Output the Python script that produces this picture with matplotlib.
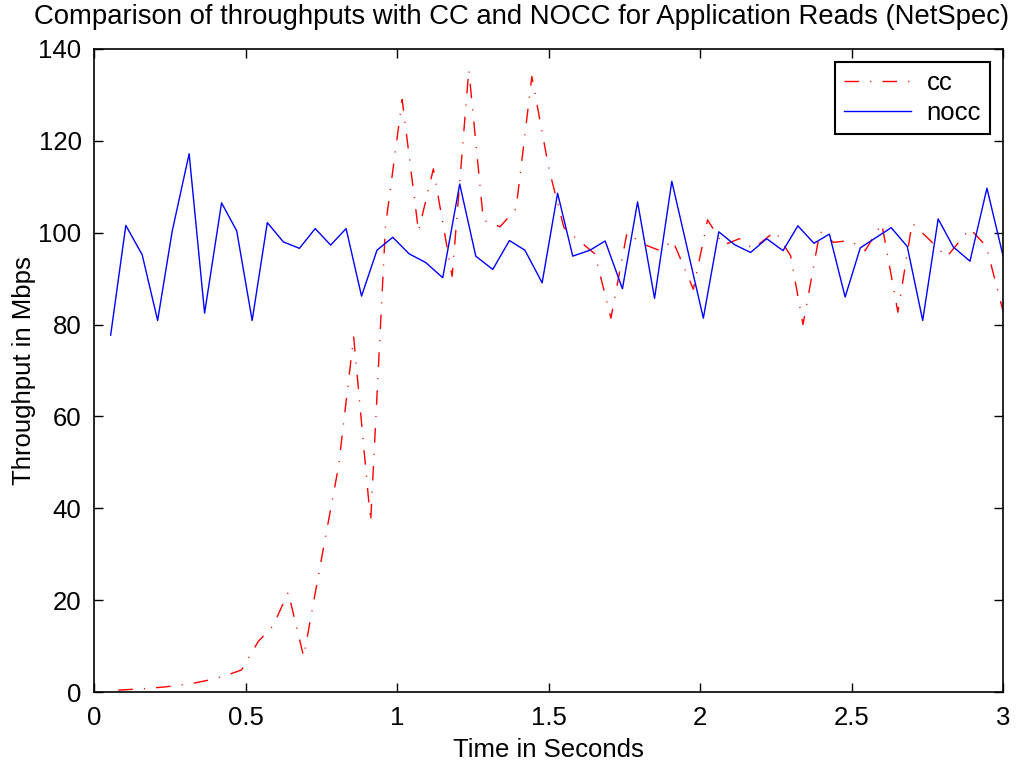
import matplotlib
matplotlib.use("Agg")
import matplotlib.pyplot as plt

plt.rcParams['font.family'] = ['Liberation Sans', 'DejaVu Sans']

cc_time = [0.080, 0.131, 0.182, 0.233, 0.284, 0.335, 0.386, 0.436, 0.487, 0.542,
           0.591, 0.641, 0.692, 0.746, 0.807, 0.857, 0.913, 0.962, 1.017, 1.071,
           1.120, 1.182, 1.237, 1.285, 1.340, 1.393, 1.445, 1.502, 1.551, 1.600,
           1.653, 1.706, 1.759, 1.813, 1.868, 1.910, 1.978, 2.025, 2.077, 2.130,
           2.175, 2.248, 2.299, 2.340, 2.396, 2.440, 2.495, 2.545, 2.600, 2.653,
           2.700, 2.757, 2.814, 2.855, 2.891, 2.945, 3.000]
cc_mbps = [0.4, 0.6, 0.8, 1.1, 1.5, 2.0, 2.7, 3.6, 4.8, 11.0,
           14.4, 21.7, 7.7, 27.3, 49.1, 77.3, 37.0, 101.4, 129.0, 100.3,
           113.9, 90.5, 135.5, 102.7, 101.3, 105.2, 134.0, 113.7, 101.1, 98.3,
           95.4, 81.4, 100.0, 97.5, 96.1, 98.3, 87.7, 102.8, 97.3, 98.7,
           96.5, 100.3, 95.0, 80.0, 100.3, 97.9, 98.3, 96.1, 102.0, 82.7,
           102.1, 98.5, 94.7, 98.0, 100.9, 97.0, 83.0]

nocc_time = [0.055, 0.105, 0.159, 0.210, 0.258, 0.314, 0.365, 0.421, 0.471, 0.522,
             0.572, 0.625, 0.678, 0.730, 0.781, 0.832, 0.883, 0.934, 0.986, 1.040,
             1.095, 1.151, 1.207, 1.260, 1.316, 1.371, 1.422, 1.479, 1.530, 1.580,
             1.637, 1.687, 1.744, 1.794, 1.850, 1.907, 1.959, 2.011, 2.062, 2.114,
             2.167, 2.220, 2.274, 2.323, 2.376, 2.427, 2.479, 2.529, 2.580, 2.631,
             2.684, 2.735, 2.786, 2.836, 2.891, 2.947, 3.000]
nocc_mbps = [77.7, 101.6, 95.2, 80.9, 100.3, 117.2, 82.5, 106.5, 100.4, 80.9,
             102.2, 98.0, 96.6, 100.9, 97.3, 100.9, 86.2, 96.2, 99.0, 95.4,
             93.5, 90.2, 110.6, 94.9, 92.0, 98.3, 96.2, 89.1, 108.6, 94.9,
             96.2, 98.2, 87.8, 106.7, 85.7, 111.2, 96.3, 81.4, 100.2, 97.4,
             95.7, 98.7, 96.1, 101.5, 97.7, 99.7, 86.0, 96.7, 98.9, 101.1,
             97.0, 80.9, 103.0, 96.9, 93.8, 109.7, 95.0]

x_ticks = [0, 0.5, 1, 1.5, 2, 2.5, 3]
x_tick_labels = ['0', '0.5', '1', '1.5', '2', '2.5', '3']
y_ticks = [0, 20, 40, 60, 80, 100, 120, 140]

fig = plt.figure(figsize=(10.21, 7.61), dpi=100)
ax = fig.add_axes([94/1021, 1-692/761, (1003-94)/1021, (692-49)/761])

ax.plot(cc_time, cc_mbps, color='#ff0000', linewidth=1.0,
        linestyle=(0, (10.5, 8, 0.8, 8)), label='cc')
ax.plot(nocc_time, nocc_mbps, color='#0000ff', linewidth=1.0,
        linestyle='-', label='nocc')

ax.set_xlim(0, 3)
ax.set_ylim(0, 140)
ax.set_xticks(x_ticks)
ax.set_xticklabels(x_tick_labels)
ax.set_yticks(y_ticks)
ax.tick_params(direction='in', top=True, right=True, labelsize=18.5,
               length=6.5, width=1)
ax.tick_params(axis='x', pad=10)
ax.tick_params(axis='y', pad=9)
for s in ax.spines.values():
    s.set_linewidth(1.2)

fig.text(522/1021, 1 - 17/761,
         'Comparison of throughputs with CC and NOCC for Application Reads (NetSpec)',
         fontsize=19.8, ha='center', va='center')
ax.set_xlabel('Time in Seconds', fontsize=18.5, labelpad=5.5)
ax.set_ylabel('Throughput in Mbps', fontsize=18.5, labelpad=1.5)

leg = ax.legend(loc='upper right', fontsize=18.5, fancybox=False, framealpha=1,
                edgecolor='black', handlelength=2.6, handletextpad=0.6,
                borderpad=0.35, labelspacing=0.25, borderaxespad=0,
                bbox_to_anchor=(1 - 13/909, 1 - 13/643))
leg.get_frame().set_linewidth(1.5)

fig.savefig('out.png', dpi=100)
